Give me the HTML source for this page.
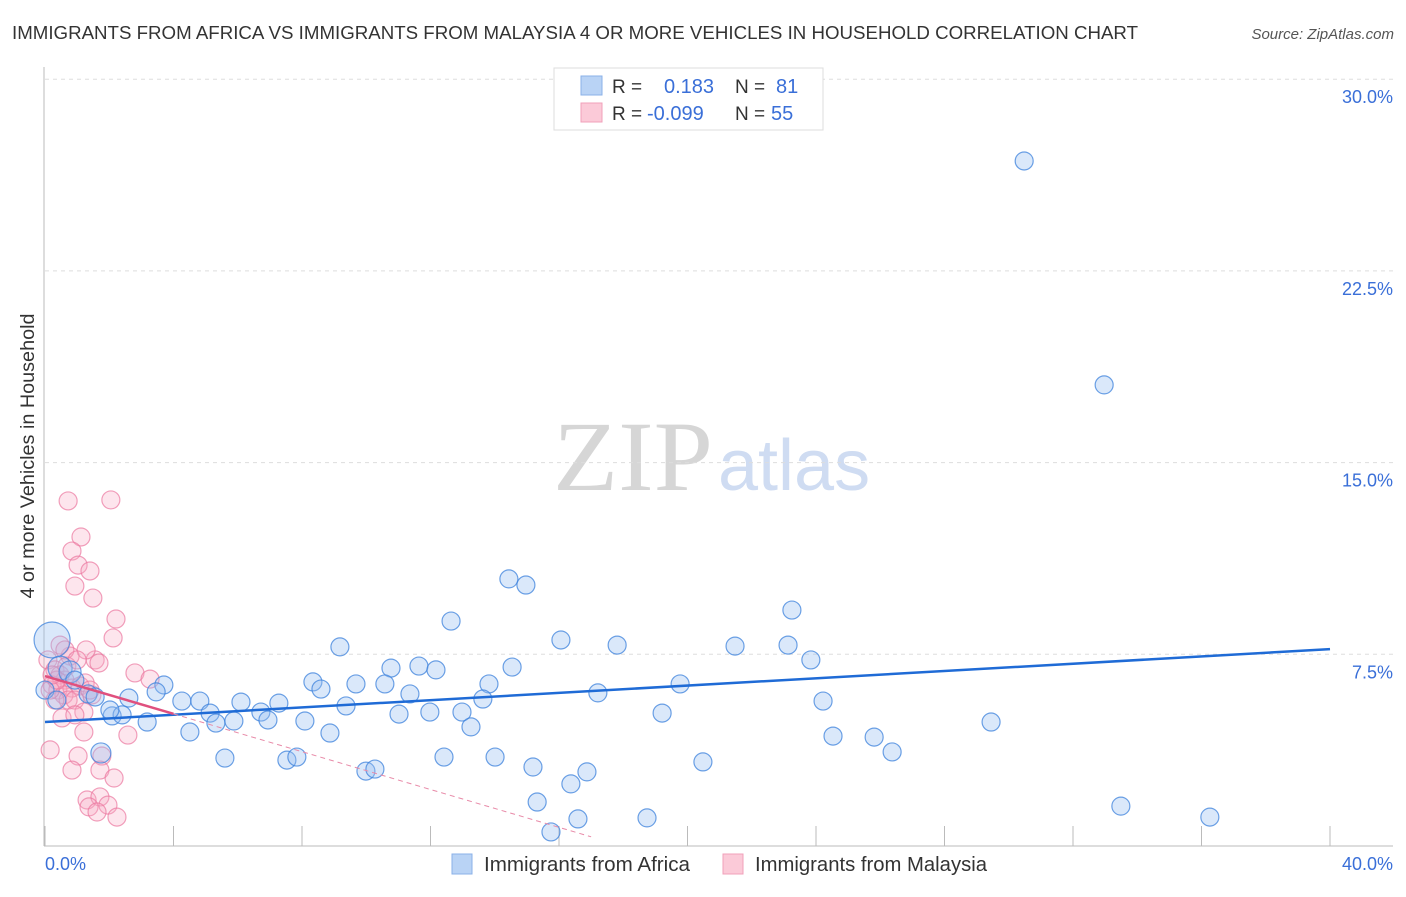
<!DOCTYPE html>
<html><head><meta charset="utf-8"><style>
body{margin:0;background:#fff;font-family:"Liberation Sans",sans-serif;}
svg text{font-family:"Liberation Sans",sans-serif;}
svg text.serif{font-family:"Liberation Serif",serif;}
</style></head><body>
<svg id="chart" width="1406" height="892">
<text x="12" y="39" font-size="18" fill="#333" textLength="1126" lengthAdjust="spacingAndGlyphs">IMMIGRANTS FROM AFRICA VS IMMIGRANTS FROM MALAYSIA 4 OR MORE VEHICLES IN HOUSEHOLD CORRELATION CHART</text>
<text x="1394" y="39" font-size="15" fill="#555" font-style="italic" text-anchor="end">Source: ZipAtlas.com</text>
<text class="serif" x="553" y="490" font-size="100" fill="#d6d6d6" textLength="160" lengthAdjust="spacingAndGlyphs">ZIP</text>
<text x="718" y="490" font-size="72" fill="#cfdcf2">atlas</text>
<text transform="translate(34,456) rotate(-90)" font-size="19" fill="#333" text-anchor="middle" textLength="285" lengthAdjust="spacingAndGlyphs">4 or more Vehicles in Household</text>
<g id="grid"></g><g id="marks"></g>
<g>
<rect x="554" y="68" width="269" height="62" fill="#fff" stroke="#ddd"/>
<rect x="581" y="76" width="21" height="19" fill="#b9d3f5" stroke="#8ab0e8"/>
<rect x="581" y="103" width="21" height="19" fill="#fbcad8" stroke="#f0a0ba"/>
<text x="612" y="93" font-size="19" fill="#333">R = </text><text x="664" y="93" font-size="20" fill="#3a6fd8">0.183</text>
<text x="735" y="93" font-size="19" fill="#333">N = </text><text x="776" y="93" font-size="20" fill="#3a6fd8">81</text>
<text x="612" y="120" font-size="19" fill="#333">R = </text><text x="647" y="120" font-size="20" fill="#3a6fd8">-0.099</text>
<text x="735" y="120" font-size="19" fill="#333">N = </text><text x="771" y="120" font-size="20" fill="#3a6fd8">55</text>
</g>
<g>
<rect x="452" y="854" width="20" height="20" fill="#b9d3f5" stroke="#8ab0e8"/>
<text x="484" y="871" font-size="20" fill="#333" textLength="206" lengthAdjust="spacingAndGlyphs">Immigrants from Africa</text>
<rect x="723" y="854" width="20" height="20" fill="#fbcad8" stroke="#f0a0ba"/>
<text x="755" y="871" font-size="20" fill="#333" textLength="232" lengthAdjust="spacingAndGlyphs">Immigrants from Malaysia</text>
</g>
</svg>
<script>
const yTicks=[7.5,15,22.5,30];
const yTickLabels=["7.5%","15.0%","22.5%","30.0%"];
const xTicks=[0,4,8,12,16,20,24,28,32,36,40];
const africaX=[30.48,32.97,14.44,14.97,12.64,23.25,16.06,17.81,21.48,23.13,9.18,23.84,10.77,11.64,12.17,14.54,8.34,9.68,10.58,8.59,13.82,19.77,3.70,2.61,3.46,4.26,4.82,6.10,7.28,11.36,17.21,13.63,9.37,24.22,5.14,6.72,11.02,11.98,12.98,19.21,2.09,2.40,3.18,5.32,5.88,6.94,8.09,13.26,29.45,4.51,8.87,24.53,25.81,26.37,5.60,7.53,7.84,12.42,14.01,20.48,15.19,9.99,10.27,16.87,16.37,15.32,33.49,16.59,18.74,36.26,15.75,1.74,0.22,0.47,0.78,1.34,1.56,0,0.93,0.37,2.02];
const africaY=[26.80,18.04,10.45,10.21,8.80,9.23,8.06,7.86,7.82,7.86,7.79,7.28,6.96,7.04,6.89,7.00,6.42,6.34,6.34,6.14,6.34,6.34,6.30,5.79,6.03,5.67,5.67,5.63,5.59,5.95,5.99,5.75,5.48,5.67,5.20,5.24,5.16,5.24,5.24,5.20,5.09,5.13,4.85,4.81,4.89,4.93,4.89,4.66,4.85,4.46,4.42,4.30,4.26,3.68,3.44,3.36,3.48,3.48,3.48,3.29,3.09,2.93,3.01,2.90,2.43,1.72,1.56,1.06,1.10,1.13,0.55,3.64,8.06,6.96,6.81,5.95,5.83,6.10,6.49,5.71,5.32];
const africaBig={71:10,72:18,73:12,74:11};
const malaysiaX=[0.72,2.05,1.12,0.84,1.03,1.40,0.93,1.49,2.21,2.12,0.78,1.56,1.68,2.80,3.27,0.09,0.31,0.47,0.62,0.22,0.40,0.84,1.09,1.25,0.59,0.72,0.31,0.93,1.21,0.53,0.93,1.46,2.58,1.21,0.16,1.77,1.03,0.84,1.71,2.15,1.31,1.71,1.37,1.96,1.62,2.24,0.47,0.62,1.28,0.16,0.37,0.68,0.22,1.00,1.40];
const malaysiaY=[13.50,13.54,12.09,11.54,10.99,10.76,10.17,9.70,8.88,8.14,7.43,7.28,7.16,6.77,6.53,7.28,6.89,6.69,6.49,6.30,6.10,6.18,6.26,6.38,5.91,5.71,5.71,5.71,5.24,5.01,5.13,5.91,4.34,4.46,3.76,3.52,3.52,2.97,2.97,2.66,1.80,1.92,1.53,1.60,1.33,1.13,7.86,7.67,7.67,6.10,6.49,7.04,6.69,7.28,6.10];
const africaTrend=[4.85,0.0713];
const malaysiaTrend=[6.65,-0.37];
const X=v=>45+v*32.125, Y=v=>846-v*25.56;
const NS="http://www.w3.org/2000/svg";
function mk(tag,at,parent){const e=document.createElementNS(NS,tag);for(const k in at)e.setAttribute(k,at[k]);parent.appendChild(e);return e;}
const g=document.getElementById('grid'), m=document.getElementById('marks');
yTicks.forEach((t,i)=>{
 const l=mk('line',{x1:45,x2:1393,y1:Y(t),y2:Y(t),stroke:'#ddd','stroke-dasharray':'4,4'},g);
 
 
 const tx=mk('text',{x:1393,y:Y(t)+24,'font-size':18,fill:'#3a6fd8','text-anchor':'end'},g);
 tx.textContent=yTickLabels[i];
 
 
});
const ax=mk('line',{x1:44,x2:44,y1:67,y2:846,stroke:'#bbb'},g);


const bx=mk('line',{x1:44,x2:1393,y1:846,y2:846,stroke:'#bbb'},g);


xTicks.forEach(t=>{
 const l=mk('line',{x1:X(t),x2:X(t),y1:826,y2:846,stroke:'#bbb'},g);
 
 
});
const xl0=mk('text',{x:45,y:870,'font-size':18,fill:'#3a6fd8'},g);xl0.textContent='0.0%';


const xl1=mk('text',{x:1393,y:870,'font-size':18,fill:'#3a6fd8','text-anchor':'end'},g);xl1.textContent='40.0%';


malaysiaX.forEach((v,i)=>{
 const c=mk('circle',{cx:X(v),cy:Y(malaysiaY[i]),r:9,fill:'rgba(248,170,195,0.3)',stroke:'rgba(235,120,160,0.7)','stroke-width':1.2},m);
 
 
});
africaX.forEach((v,i)=>{
 const c=mk('circle',{cx:X(v),cy:Y(africaY[i]),r:africaBig[i]||9,fill:'rgba(150,190,240,0.35)',stroke:'rgba(60,130,220,0.75)','stroke-width':1.2},m);
 
 
});
const bt=mk('line',{x1:X(0),y1:Y(africaTrend[0]),x2:X(40),y2:Y(africaTrend[0]+40*africaTrend[1]),stroke:'#1f6bd6','stroke-width':2.5},m);


const pt=mk('line',{x1:X(0),y1:Y(malaysiaTrend[0]),x2:X(4),y2:Y(malaysiaTrend[0]+4*malaysiaTrend[1]),stroke:'#e0507e','stroke-width':2.5},m);


const pd=mk('line',{x1:X(4),y1:Y(malaysiaTrend[0]+4*malaysiaTrend[1]),x2:X(17),y2:Y(malaysiaTrend[0]+17*malaysiaTrend[1]),stroke:'#e88aa8','stroke-width':1,'stroke-dasharray':'5,4'},m);


</script>
</body></html>
